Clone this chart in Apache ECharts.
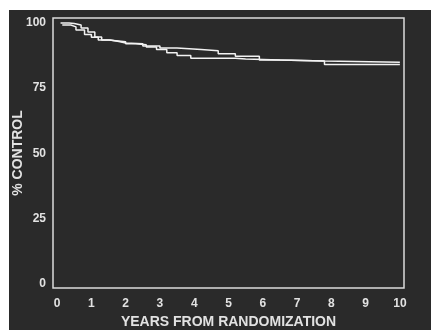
<!DOCTYPE html>
<html>
<head>
<meta charset="utf-8">
<script src="https://cdn.jsdelivr.net/npm/echarts@6/dist/echarts.min.js"></script>
<style>
    html, body { margin: 0; padding: 0; background: #fff; }
    #chart { width: 431px; height: 332px; }
</style>
</head>
<body>
<div id="chart"></div>
<script>
// survival curves (years, % control)
var yearsA = [0.1, 0.35, 0.5, 0.7, 0.9, 1.1, 1.3, 1.55, 1.8, 2.0, 2.5, 3.0, 3.5, 4.2, 4.7, 5.2, 5.9, 6.5, 7.8, 10];
var controlA = [100, 99.8, 99.2, 98.1, 96.5, 94.6, 93.5, 92.9, 92.3, 92.0, 91.2, 90.4, 89.8, 89.3, 88.2, 87.2, 85.8, 85.4, 84.9, 84.9];
var yearsB = [0.15, 0.4, 0.55, 0.8, 1.0, 1.2, 1.5, 2.0, 2.3, 2.6, 2.9, 3.2, 3.5, 3.9, 5.2, 5.5, 6.5, 7.8, 10];
var controlB = [99.2, 98.5, 97.3, 95.6, 94.5, 93.5, 92.8, 92.0, 91.6, 90.8, 89.8, 88.6, 87.5, 86.5, 86.2, 85.8, 85.4, 84.1, 84.1];

// tick labels
var xTicks = [0, 1, 2, 3, 4, 5, 6, 7, 8, 9, 10];
var yTicks = [0, 25, 50, 75, 100];

var myChart = echarts.init(document.getElementById('chart'));

var textColor = '#e2e2e2';
var font = 'Liberation Sans, Arial, sans-serif';

var options = {
    backgroundColor: '#fff',
    animation: false,
    // dark panel behind the plot
    graphic: [{
        type: 'rect',
        z: -10,
        shape: { x: 9, y: 10, width: 422, height: 320 },
        style: { fill: '#2a2a2a' }
    }],
    grid: {
        left: 53, top: 18, width: 351, height: 270,
        outerBoundsMode: 'none',
        containLabel: false,
        show: true,
        borderColor: '#dcdcdc',
        borderWidth: 1.5,
        backgroundColor: 'transparent'
    },
    xAxis: {
        type: 'value',
        min: -0.12,
        max: 10.12,
        name: 'YEARS FROM RANDOMIZATION',
        nameLocation: 'middle',
        nameGap: 26,
        nameTextStyle: { color: textColor, fontSize: 14, fontWeight: 'bold', fontFamily: font },
        axisLine: { show: false },
        axisTick: { show: false },
        splitLine: { show: false },
        axisLabel: {
            customValues: xTicks,
            color: textColor, fontSize: 12, fontWeight: 'bold', fontFamily: font, margin: 10
        }
    },
    yAxis: {
        type: 'value',
        min: -1.6,
        max: 101.9,
        name: '% CONTROL',
        nameLocation: 'middle',
        nameGap: 28,
        nameMoveOverlap: false,
        nameTextStyle: { color: textColor, fontSize: 14, fontWeight: 'bold', fontFamily: font },
        axisLine: { show: false },
        axisTick: { show: false },
        splitLine: { show: false },
        axisLabel: {
            customValues: yTicks,
            color: textColor, fontSize: 12, fontWeight: 'bold', fontFamily: font, margin: 7
        }
    },
    series: [{
        name: 'A',
        type: 'line',
        step: 'end',
        showSymbol: false,
        lineStyle: { color: '#f2f2f2', width: 1.5 },
        data: []
    }, {
        name: 'B',
        type: 'line',
        step: 'end',
        showSymbol: false,
        lineStyle: { color: '#f2f2f2', width: 1.5 },
        data: []
    }]
};

for (var i = 0; i < yearsA.length; i++) {
    options.series[0].data.push([yearsA[i], controlA[i]]);
}
for (var j = 0; j < yearsB.length; j++) {
    options.series[1].data.push([yearsB[j], controlB[j]]);
}

myChart.setOption(options, true);
</script>
</body>
</html>
